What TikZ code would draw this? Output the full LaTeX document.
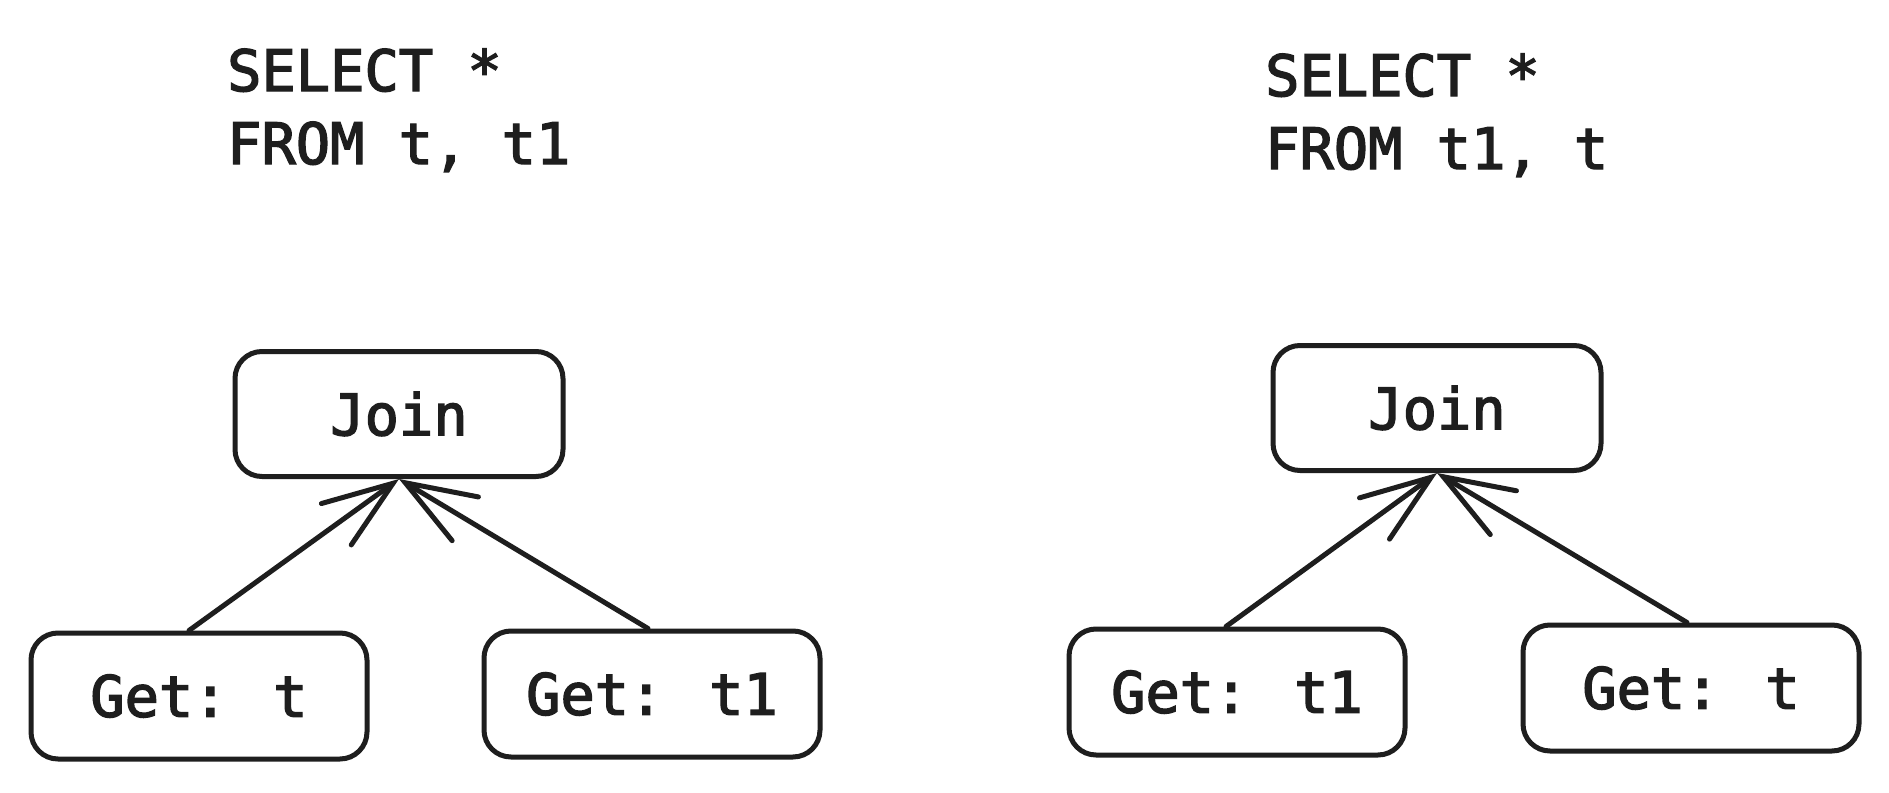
\documentclass[tikz,border=0pt]{standalone}
\usepackage{fontspec}
\newfontfamily\codefont[FakeBold=2.5]{DejaVu Sans Mono}
\usetikzlibrary{arrows.meta}
\definecolor{ink}{HTML}{1E1E1E}
\begin{document}
\begin{tikzpicture}[x=1pt,y=-1pt,
  code/.style={text=ink,font=\codefont\fontsize{57}{72}\selectfont,inner sep=0pt},
  box/.style={draw=ink,line width=5pt,rounded corners=27pt,inner sep=0pt,
    minimum width=336pt,minimum height=126pt,code},
  joinbox/.style={box,minimum width=328pt,minimum height=125pt},
  conn/.style={draw=ink,line width=5pt,line cap=round,
    -{Straight Barb[length=70pt,width=51pt,line cap=round]}}]
\useasboundingbox (0,0) rectangle (1889,792);
\fill[white] (0,0) rectangle (1889,792);
% left query
\node[code,anchor=base west] (lq1) at (227,91) {SELECT *};
\node[code,anchor=base west] (lq2) at (227,164) {FROM t, t1};
% right query
\node[code,anchor=base west] (rq1) at (1265,96) {SELECT *};
\node[code,anchor=base west] (rq2) at (1265,169) {FROM t1, t};
% left tree
\node[joinbox] (lj) at (399,414) {Join};
\node[box] (lga) at (199,696) {Get: t};
\node[box] (lgb) at (652,694) {Get: t1};
\draw[conn] ([xshift=-10pt]lga.north) -- (lj.south);
\draw[conn] ([xshift=-4pt]lgb.north) -- (lj.south);
% right tree
\node[joinbox] (rj) at (1437,408) {Join};
\node[box] (rga) at (1237,692) {Get: t1};
\node[box] (rgb) at (1691,688) {Get: t};
\draw[conn] ([xshift=-11pt]rga.north) -- (rj.south);
\draw[conn] ([xshift=-4pt]rgb.north) -- (rj.south);
\end{tikzpicture}
\end{document}
